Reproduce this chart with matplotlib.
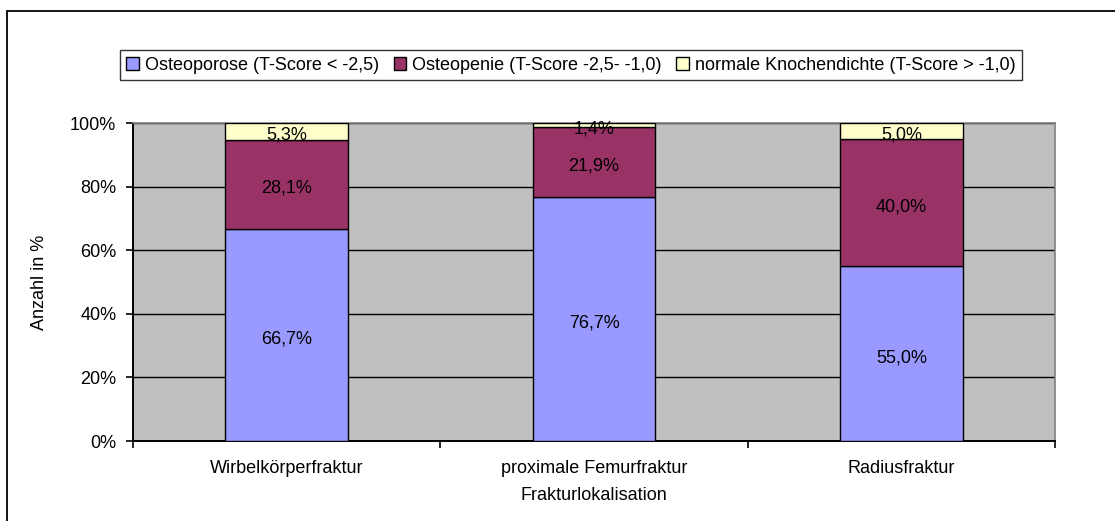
import matplotlib
matplotlib.use("Agg")
import matplotlib.pyplot as plt
from matplotlib.patches import Rectangle
from matplotlib.transforms import offset_copy
import numpy as np

plt.rcParams['font.family'] = ['Liberation Sans', 'DejaVu Sans']

categories = ["Wirbelkörperfraktur", "proximale Femurfraktur", "Radiusfraktur"]
series_names = ["Osteoporose (T-Score < -2,5)", "Osteopenie (T-Score -2,5- -1,0)",
                "normale Knochendichte (T-Score > -1,0)"]
osteoporose = [66.7, 76.7, 55.0]
osteopenie = [28.1, 21.9, 40.0]
normal = [5.3, 1.4, 5.0]
colors = ["#9999FF", "#993366", "#FFFFCC"]
yticks = [0, 20, 40, 60, 80, 100]

FS = 13
W, H = 1115, 521
fig = plt.figure(figsize=(W / 100, H / 100), dpi=100)
fig.patch.set_facecolor("white")

# outer frame (clipped at right/bottom like the reference)
fig.patches.append(Rectangle((7 / W, -0.02), 1.05, 1 - 11 / H + 0.02, transform=fig.transFigure,
                             fill=False, edgecolor="black", linewidth=1.3, zorder=0))

ax = fig.add_axes([133 / W, 1 - 441 / H, 922 / W, 318 / H])
ax.set_facecolor("#C0C0C0")

data = np.array([osteoporose, osteopenie, normal])
totals = data.sum(axis=0)
pct = data / totals * 100

label_tr = offset_copy(ax.transData, fig=fig, x=0, y=-4, units="dots")

x = np.arange(len(categories))
bottom = np.zeros(len(categories))
handles = []
for i in range(3):
    b = ax.bar(x, pct[i], bottom=bottom, width=0.4, color=colors[i], edgecolor="black",
               linewidth=1.0, zorder=3, label=series_names[i])
    handles.append(b)
    for j in range(len(categories)):
        yc = bottom[j] + pct[i][j] / 2
        ax.text(x[j], yc, f"{data[i][j]:.1f}%".replace(".", ","), ha="center", va="center",
                fontsize=FS, color="black", zorder=4, transform=label_tr)
    bottom += pct[i]

ax.set_xlim(-0.5, 2.5)
ax.set_ylim(0, 100)
ax.set_yticks(yticks)
ax.set_yticklabels([f"{v}%" for v in yticks], fontsize=FS)
ax.yaxis.grid(True, color="black", linewidth=1.0, zorder=1)
ax.set_axisbelow(True)

ax.set_xticks([-0.5, 0.5, 1.5, 2.5])
ax.set_xticklabels([])
ax.set_xticks(x, minor=True)
ax.set_xticklabels(categories, minor=True, fontsize=FS)
ax.tick_params(axis="x", which="minor", length=0, pad=14)
ax.tick_params(axis="x", which="major", direction="out", length=5, width=1.2, color="black")
ax.tick_params(axis="y", direction="out", length=5, width=1.2, color="black", pad=7)

for s in ["top", "right"]:
    ax.spines[s].set_color("#808080")
    ax.spines[s].set_linewidth(1.2)
for s in ["left", "bottom"]:
    ax.spines[s].set_color("black")
    ax.spines[s].set_linewidth(1.4)

ax.set_xlabel("Frakturlokalisation", fontsize=FS, labelpad=7)
ax.set_ylabel("Anzahl in %", fontsize=FS, labelpad=16)

leg = fig.legend(handles=handles, labels=series_names, loc="center",
                 bbox_to_anchor=(571 / W, 1 - 65 / H), ncol=3, fontsize=FS,
                 frameon=True, fancybox=False, edgecolor="black",
                 handlelength=0.7, handleheight=0.7, handletextpad=0.35,
                 columnspacing=0.8, borderpad=0.35, borderaxespad=0)
leg.get_frame().set_linewidth(1.0)

fig.savefig("out.png", dpi=100, facecolor="white")
